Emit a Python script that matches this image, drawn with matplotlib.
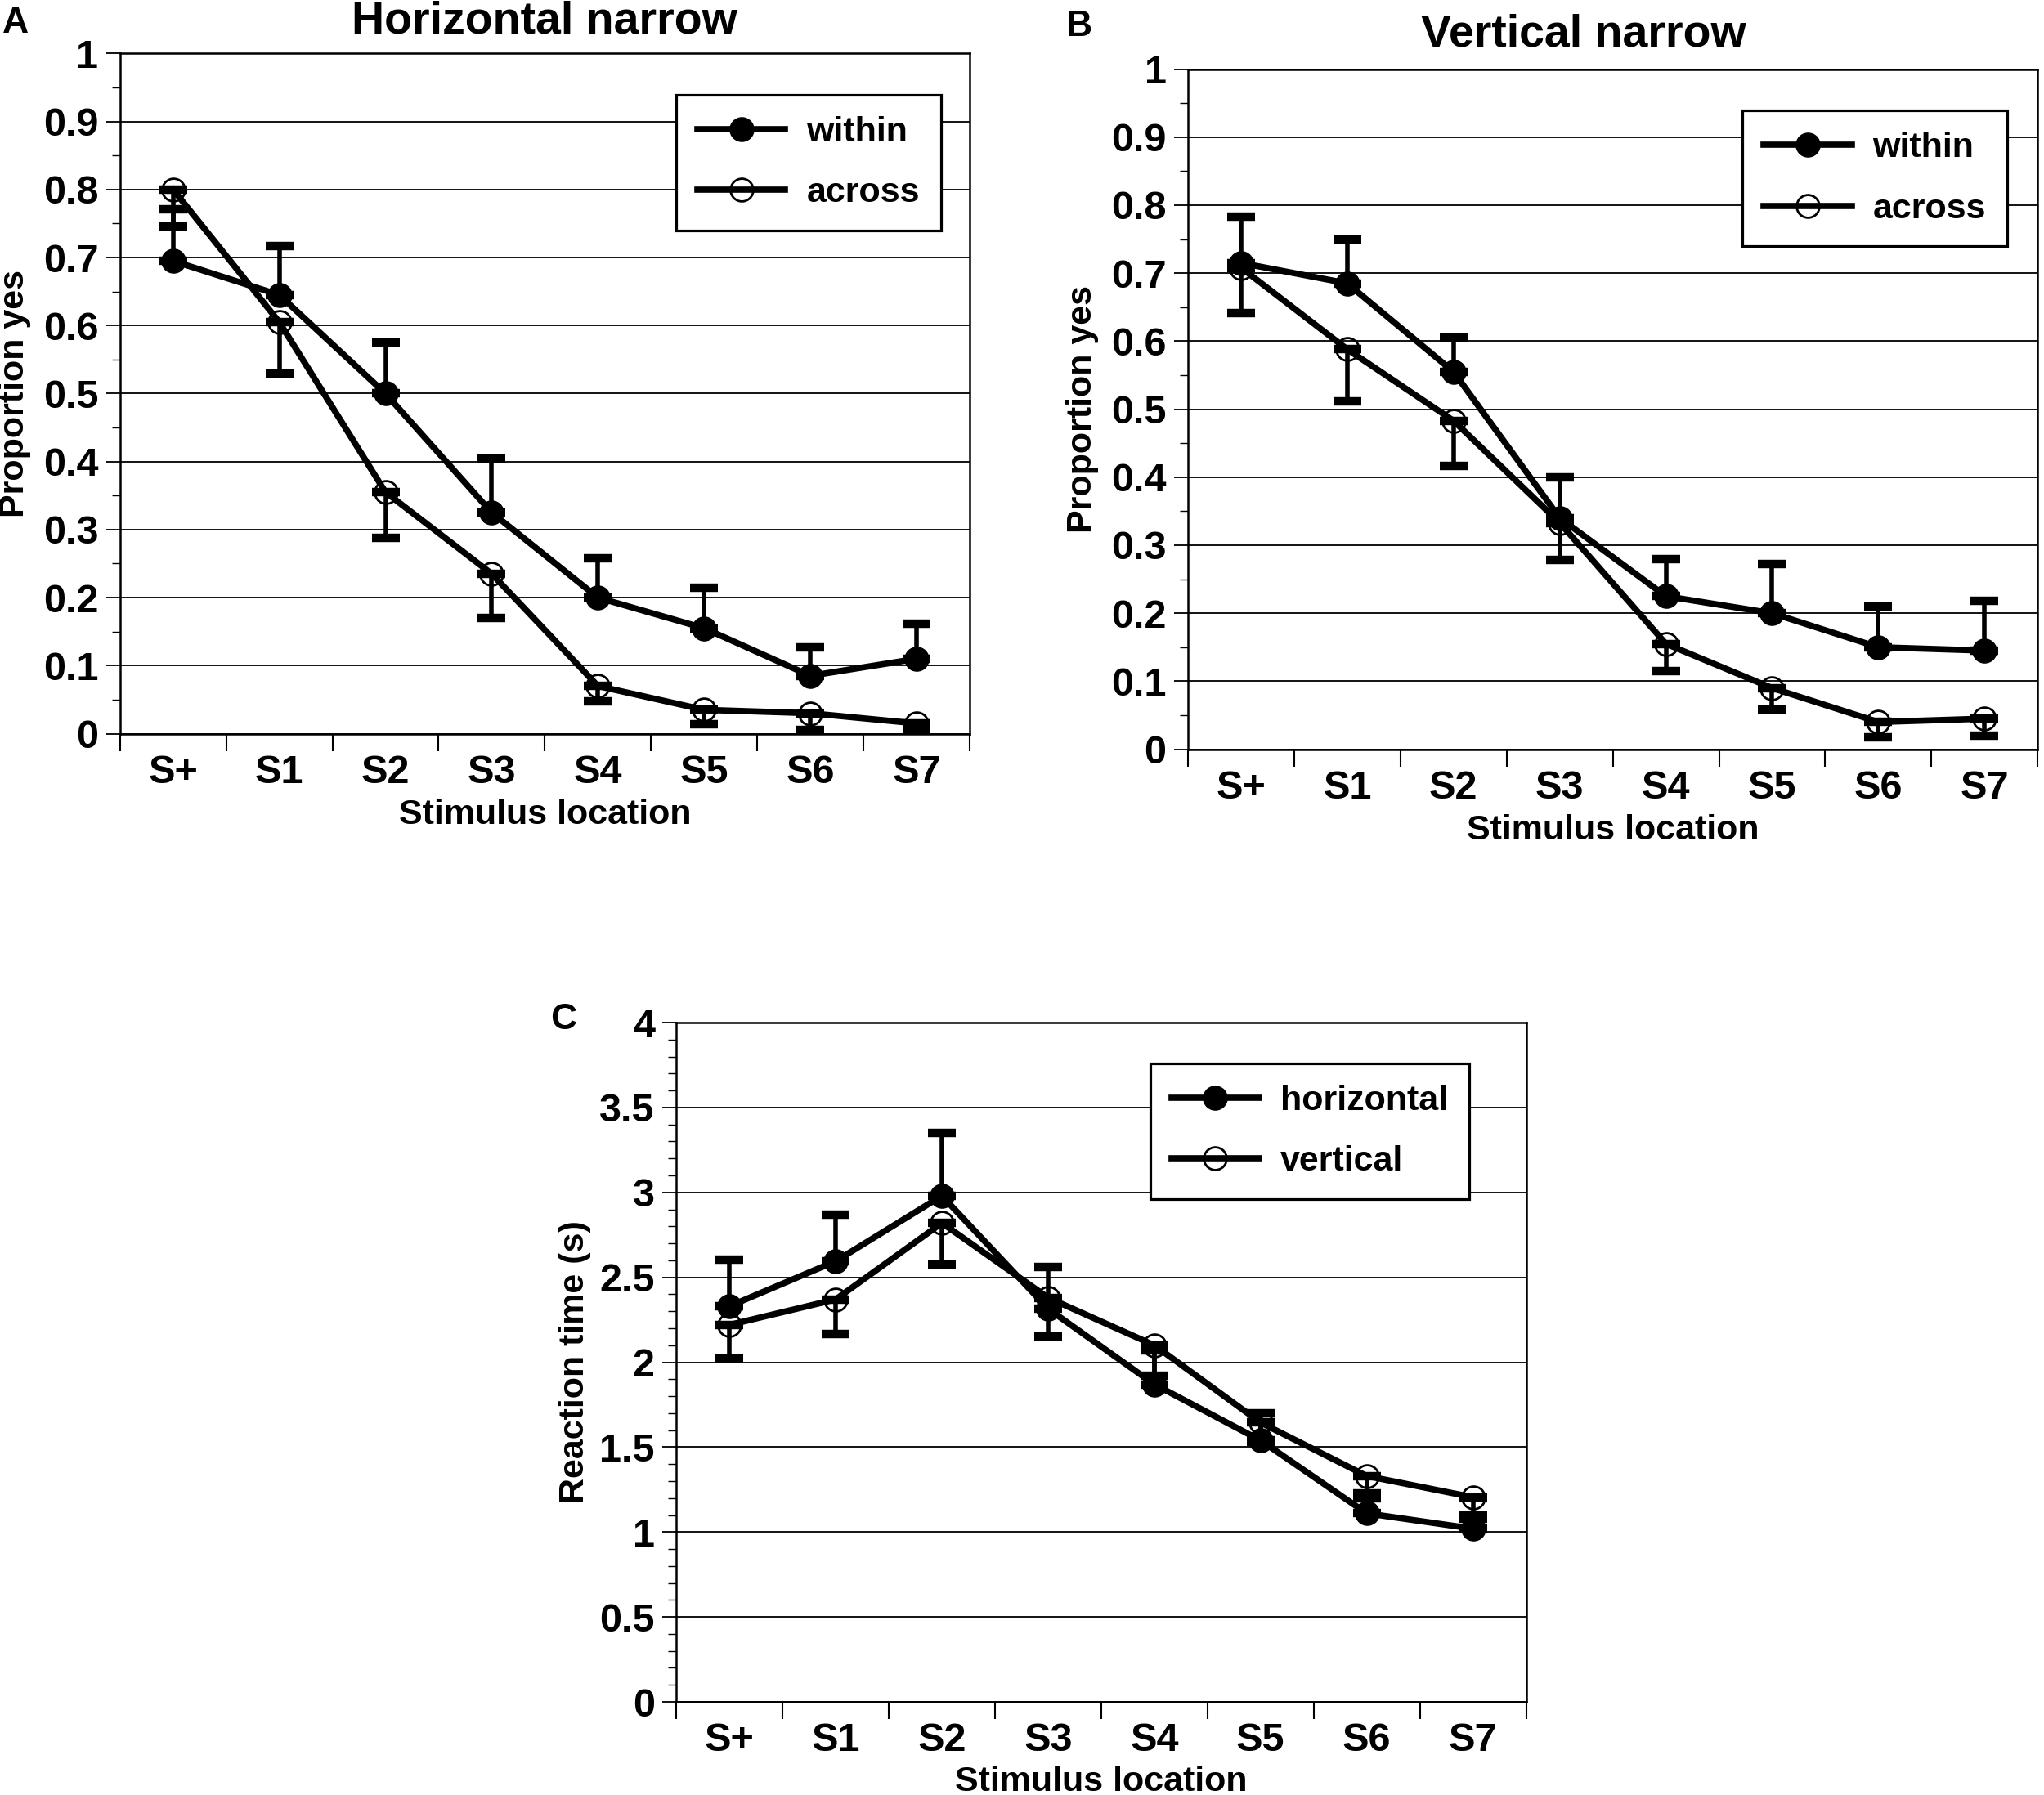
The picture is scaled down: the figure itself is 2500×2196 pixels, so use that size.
import numpy as np
import matplotlib
matplotlib.use('Agg')
import matplotlib.pyplot as plt
from matplotlib.ticker import MultipleLocator

# 폰트 설정 (굵은 sans)
plt.rcParams['font.family'] = ['Liberation Sans', 'DejaVu Sans']
plt.rcParams['font.weight'] = 'bold'
plt.rcParams['axes.titleweight'] = 'bold'
plt.rcParams['axes.labelweight'] = 'bold'

# %% 데이터
labels = ['S+', 'S1', 'S2', 'S3', 'S4', 'S5', 'S6', 'S7']

# A: Horizontal narrow
hn_within = [0.695, 0.645, 0.50, 0.325, 0.20, 0.155, 0.085, 0.11]
hn_within_top = [0.771, 0.717, 0.575, 0.405, 0.258, 0.215, 0.127, 0.162]   # 위쪽 error bar 끝
hn_across = [0.80, 0.605, 0.355, 0.235, 0.07, 0.035, 0.03, 0.015]
hn_across_bot = [0.746, 0.53, 0.288, 0.17, 0.048, 0.014, 0.005, 0.003]     # 아래쪽 error bar 끝

# B: Vertical narrow
vn_within = [0.715, 0.685, 0.555, 0.34, 0.225, 0.20, 0.15, 0.145]
vn_within_top = [0.783, 0.75, 0.605, 0.40, 0.28, 0.272, 0.21, 0.218]
vn_across = [0.708, 0.588, 0.483, 0.333, 0.155, 0.09, 0.04, 0.045]
vn_across_bot = [0.641, 0.512, 0.417, 0.278, 0.115, 0.058, 0.018, 0.02]

# C: reaction time
rt_horiz = [2.33, 2.595, 2.98, 2.315, 1.87, 1.54, 1.11, 1.02]
rt_horiz_top = [2.605, 2.87, 3.35, 2.56, 2.07, 1.70, 1.23, 1.10]
rt_vert = [2.22, 2.37, 2.82, 2.38, 2.10, 1.645, 1.33, 1.205]
rt_vert_bot = [2.02, 2.168, 2.574, 2.153, 1.92, 1.53, 1.20, 1.08]

# %% 그림
fig = plt.figure(figsize=(25, 21.96), dpi=100)
fig.set_facecolor('white')

axA = fig.add_axes([0.0587, 0.5913, 0.4157, 0.3789])
axB = fig.add_axes([0.5812, 0.5826, 0.4157, 0.3789])
axC = fig.add_axes([0.3309, 0.0519, 0.4157, 0.3784])


def draw_panel(ax, filled, filled_top, hollow, hollow_bot, names, ymax, step, minor,
               leg_anchor, ylabel, ylab_x, xlab_y):
    x = np.arange(len(labels))
    filled = np.array(filled)
    hollow = np.array(hollow)
    zero = np.zeros(len(x))

    # error bar (filled는 위쪽, hollow는 아래쪽만)
    ax.errorbar(x, filled, yerr=[zero, np.array(filled_top) - filled], fmt='none',
                ecolor='k', elinewidth=4, capsize=12, capthick=7.5, zorder=3)
    ax.errorbar(x, hollow, yerr=[hollow - np.array(hollow_bot), zero], fmt='none',
                ecolor='k', elinewidth=4, capsize=12, capthick=7.5, zorder=3)

    ax.plot(x, filled, '-o', color='k', lw=5.5, ms=21, mfc='k', mec='k', zorder=4, label=names[0])
    ax.plot(x, hollow, '-o', color='k', lw=5.5, ms=20, mfc='none', mec='k', mew=2, zorder=4, label=names[1])

    ax.set_xlim(-0.5, 7.5)
    ax.set_ylim(0, ymax)

    # y축 눈금
    yt = np.arange(0, ymax + step / 2, step)
    ax.set_yticks(yt)
    ax.set_yticklabels(['{:g}'.format(round(v, 2)) for v in yt], fontsize=35)
    ax.yaxis.set_minor_locator(MultipleLocator(minor))
    ax.tick_params(axis='y', which='major', length=12, width=1.3, pad=7, direction='out')
    ax.tick_params(axis='y', which='minor', length=7, width=1.0, direction='out')
    ax.yaxis.grid(True, color='k', lw=1.3)
    ax.set_axisbelow(True)

    # x축: 라벨은 가운데, 눈금선은 경계에
    ax.set_xticks(x)
    ax.set_xticklabels(labels, fontsize=35)
    ax.set_xticks(np.arange(-0.5, 8, 1), minor=True)
    ax.tick_params(axis='x', which='major', length=0, pad=18)
    ax.tick_params(axis='x', which='minor', length=15, width=1.5, direction='out')

    for s in ax.spines.values():
        s.set_linewidth(1.8)

    ax.set_xlabel('Stimulus location', fontsize=31, va='top')
    ax.xaxis.set_label_coords(0.5, xlab_y)
    ax.set_ylabel(ylabel, fontsize=31)
    ax.yaxis.set_label_coords(ylab_x, 0.5)

    lg = ax.legend(loc='upper right', bbox_to_anchor=leg_anchor, fontsize=31,
                   fancybox=False, edgecolor='k', framealpha=1, borderpad=0.6,
                   labelspacing=0.8, handlelength=2.5, handletextpad=0.6, borderaxespad=0)
    lg.get_frame().set_linewidth(2.3)


draw_panel(axA, hn_within, hn_within_top, hn_across, hn_across_bot, ['within', 'across'],
           1.0, 0.1, 0.05, (0.966, 0.939), 'Proportion yes', -0.105, -0.096)
draw_panel(axB, vn_within, vn_within_top, vn_across, vn_across_bot, ['within', 'across'],
           1.0, 0.1, 0.05, (0.964, 0.939), 'Proportion yes', -0.105, -0.096)
draw_panel(axC, rt_horiz, rt_horiz_top, rt_vert, rt_vert_bot, ['horizontal', 'vertical'],
           4.0, 0.5, 0.1, (0.933, 0.94), 'Reaction time (s)', -0.10, -0.094)

axA.set_title('Horizontal narrow', fontsize=40, pad=18)
axB.set_title('Vertical narrow', fontsize=40, pad=20, x=0.466)

fig.text(0.0076, 0.9868, 'A', fontsize=32, ha='center', va='center')
fig.text(0.528, 0.9854, 'B', fontsize=32, ha='center', va='center')
fig.text(0.2756, 0.432, 'C', fontsize=32, ha='center', va='center')

plt.savefig('out.png', dpi=100)
